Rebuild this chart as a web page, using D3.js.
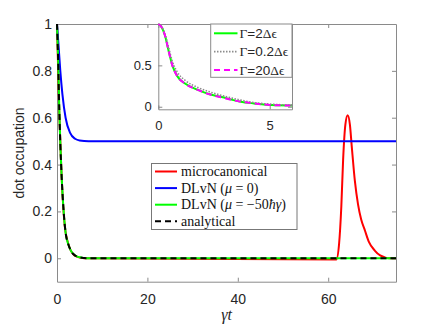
<!DOCTYPE html>
<html>
<head>
<meta charset="utf-8">
<script src="https://cdn.jsdelivr.net/npm/d3@7/dist/d3.min.js"></script>
<style>
	body { margin: 0; background: #fff; }
	svg { display: block; }
</style>
</head>
<body>
<div id="container"></div>
<script>
// data, [gamma*t, occupation]
const microcanonical = [[0, 1], [0.5, 0.62], [1, 0.36], [2, 0.1], [4, 0.01], [6, 0], [61.8, -0.005],
	[62.4, 0.06], [62.9, 0.22], [63.3, 0.42], [63.8, 0.57], [64.3, 0.61], [64.8, 0.57], [65.2, 0.48],
	[65.9, 0.33], [66.6, 0.23], [67.3, 0.165], [68.1, 0.12], [69, 0.07], [70.3, 0.033], [71.5, 0.012],
	[72.5, 0.004], [73.5, 0], [75, 0]]
const dlvnMu0 = [[0, 1], [0.3, 0.92], [0.73, 0.8], [1.2, 0.7], [1.9, 0.6], [2.9, 0.535], [4, 0.51],
	[5, 0.503], [7, 0.5], [75, 0.5]]
const dlvnMu50 = [[0, 1], [0.25, 0.85], [0.5, 0.64], [0.75, 0.48], [1, 0.36], [1.4, 0.22], [1.9, 0.11],
	[2.5, 0.06], [3, 0.035], [4, 0.012], [5, 0.004], [6, 0.001], [7, 0], [75, 0]]
const analytical = [[0, 1], [0.25, 0.85], [0.5, 0.64], [0.75, 0.48], [1, 0.36], [1.4, 0.22], [1.9, 0.11],
	[2.5, 0.06], [3, 0.035], [4, 0.012], [5, 0.004], [6, 0.001], [7, 0], [75, 0]]

// inset
const gamma2 = [[0, 1], [0.15, 0.96], [0.3, 0.86], [0.45, 0.69], [0.63, 0.5], [0.85, 0.37], [1.2, 0.28],
	[1.8, 0.2], [2.3, 0.15], [2.8, 0.12], [3.7, 0.06], [4.3, 0.04], [5.1, 0.02], [6, 0.015]]
const gamma02 = [[0, 1], [0.15, 0.97], [0.3, 0.88], [0.45, 0.73], [0.63, 0.55], [0.85, 0.42], [1.2, 0.32],
	[1.8, 0.23], [2.3, 0.18], [2.8, 0.14], [3.7, 0.08], [4.3, 0.05], [5.1, 0.03], [6, 0.02]]
const gamma20 = [[0, 1], [0.15, 0.96], [0.3, 0.86], [0.45, 0.69], [0.63, 0.5], [0.85, 0.37], [1.2, 0.28],
	[1.8, 0.2], [2.3, 0.15], [2.8, 0.115], [3.7, 0.06], [4.3, 0.04], [5.1, 0.02], [6, 0.015]]

const mainXTicks = [0, 20, 40, 60]
const mainYTicks = [0, 0.2, 0.4, 0.6, 0.8, 1]
const insetXTicks = [0, 5]
const insetYTicks = [0, 0.5, 1]

const width = 438, height = 328
const axisColor = "#8a8a8a", textColor = "#262626"
const sans = "'Liberation Sans', Arial, sans-serif"
const serif = "'Liberation Serif', 'Times New Roman', serif"
const fmt = d3.format("~g")

const svg = d3.select("#container").append("svg")
	.attr("width", width)
	.attr("height", height)

svg.append("rect").attr("width", width).attr("height", height).attr("fill", "#fff")

// main axes
const x = d3.scaleLinear().domain([0, 75]).range([57, 396])
const y = d3.scaleLinear().domain([-0.1, 1]).range([281.7, 24])

function drawAxes(g, x, y, xTicks, yTicks, fontSize, padX, padY, yFormat) {
	const [x0, x1] = x.range()
	const [y0, y1] = y.range()
	const blank = () => ""
	const parts = [
		[d3.axisBottom(x).tickValues(xTicks).tickPadding(padX).tickFormat(fmt), `translate(0,${y0})`],
		[d3.axisTop(x).tickValues(xTicks).tickFormat(blank), `translate(0,${y1})`],
		[d3.axisLeft(y).tickValues(yTicks).tickPadding(padY).tickFormat(yFormat), `translate(${x0},0)`],
		[d3.axisRight(y).tickValues(yTicks).tickFormat(blank), `translate(${x1},0)`],
	]
	parts.forEach(([axis, tr]) => {
		const a = g.append("g")
			.attr("transform", tr)
			.call(axis.tickSizeInner(-4).tickSizeOuter(0))
			.attr("font-family", sans)
			.attr("font-size", fontSize)
		a.select(".domain").attr("stroke", axisColor)
		a.selectAll(".tick line").attr("stroke", axisColor)
		a.selectAll(".tick text").attr("fill", textColor)
	})
}

function lineFor(x, y) {
	return d3.line().x(d => x(d[0])).y(d => y(d[1])).curve(d3.curveMonotoneX)
}

const mainG = svg.append("g")
drawAxes(mainG, x, y, mainXTicks, mainYTicks, 14, 12, 5, fmt)

const mainLine = lineFor(x, y)
const mainSeries = [
	{ data: microcanonical, color: "#ff0000", dash: null, label: [["microcanonical", false]] },
	{ data: dlvnMu0, color: "#0000ff", dash: null, label: [["DLvN (", false], ["μ", true], [" = 0)", false]] },
	{ data: dlvnMu50, color: "#00ff00", dash: null, label: [["DLvN (", false], ["μ", true], [" = −50", false], ["ħγ", true], [")", false]] },
	{ data: analytical, color: "#000000", dash: "6,4", label: [["analytical", false]] },
]

mainG.selectAll("path.series")
	.data(mainSeries)
	.join("path")
	.attr("class", "series")
	.attr("d", d => mainLine(d.data))
	.attr("fill", "none")
	.attr("stroke", d => d.color)
	.attr("stroke-width", 2)
	.attr("stroke-dasharray", d => d.dash)

// axis labels
svg.append("text")
	.attr("transform", "translate(24,153) rotate(-90)")
	.attr("text-anchor", "middle")
	.attr("font-family", sans)
	.attr("font-size", 14)
	.attr("fill", textColor)
	.text("dot occupation")

svg.append("text")
	.attr("x", 226.5)
	.attr("y", 320)
	.attr("text-anchor", "middle")
	.attr("font-family", serif)
	.attr("font-style", "italic")
	.attr("font-size", 16)
	.attr("fill", textColor)
	.text("γt")

// main legend
const legend = svg.append("g")
legend.append("rect")
	.attr("x", 151.5).attr("y", 163.5)
	.attr("width", 145.5).attr("height", 66)
	.attr("fill", "#fff").attr("stroke", "#777")

const legendRow = legend.selectAll("g.row")
	.data(mainSeries)
	.join("g")
	.attr("class", "row")
	.attr("transform", (d, i) => `translate(0,${171.5 + i * 16.6})`)

legendRow.append("line")
	.attr("x1", 155).attr("x2", 177)
	.attr("stroke", d => d.color)
	.attr("stroke-width", 2)
	.attr("stroke-dasharray", d => d.dash)

legendRow.append("text")
	.attr("x", 181)
	.attr("dy", "0.33em")
	.attr("font-family", serif)
	.attr("font-size", 14)
	.attr("fill", "#111")
	.selectAll("tspan")
	.data(d => d.label)
	.join("tspan")
	.attr("font-style", d => d[1] ? "italic" : null)
	.text(d => d[0])

// inset
const xi = d3.scaleLinear().domain([0, 6]).range([158.3, 292])
const yi = d3.scaleLinear().domain([-0.031, 1]).range([109.3, 24])

const insetG = svg.append("g")
insetG.append("rect")
	.attr("x", 158.3).attr("y", 24)
	.attr("width", 292 - 158.3).attr("height", 109.3 - 24)
	.attr("fill", "#fff")
drawAxes(insetG, xi, yi, insetXTicks, insetYTicks, 13, 11.5, 6.5, d => d === 1 ? "" : fmt(d))

const insetLine = lineFor(xi, yi)
const insetSeries = [
	{ data: gamma2, color: "#00ff00", dash: null, width: 2, label: [["Γ", "s"], ["=2", "a"], ["Δϵ", "s"]] },
	{ data: gamma02, color: "#8c8c8c", dash: "1.5,1.5", width: 1.6, label: [["Γ", "s"], ["=0.2", "a"], ["Δϵ", "s"]] },
	{ data: gamma20, color: "#ff00ff", dash: "6,4", width: 2, label: [["Γ", "s"], ["=20", "a"], ["Δϵ", "s"]] },
]

insetG.selectAll("path.series")
	.data(insetSeries)
	.join("path")
	.attr("class", "series")
	.attr("d", d => insetLine(d.data))
	.attr("fill", "none")
	.attr("stroke", d => d.color)
	.attr("stroke-width", d => d.width)
	.attr("stroke-dasharray", d => d.dash)

// inset legend
const insetLegend = svg.append("g")
insetLegend.append("rect")
	.attr("x", 210.7).attr("y", 24)
	.attr("width", 292 - 210.7).attr("height", 77.3 - 24)
	.attr("fill", "#fff").attr("stroke", axisColor)

const insetRow = insetLegend.selectAll("g.row")
	.data(insetSeries)
	.join("g")
	.attr("class", "row")
	.attr("transform", (d, i) => `translate(0,${33.3 + i * 18.3})`)

insetRow.append("line")
	.attr("x1", 214).attr("x2", 237.5)
	.attr("stroke", d => d.color)
	.attr("stroke-width", d => d.width)
	.attr("stroke-dasharray", d => d.dash)

insetRow.append("text")
	.attr("x", 239.5)
	.attr("dy", "0.35em")
	.attr("font-size", 13.5)
	.attr("fill", textColor)
	.selectAll("tspan")
	.data(d => d.label)
	.join("tspan")
	.attr("font-family", d => d[1] === "s" ? serif : sans)
	.text(d => d[0])
</script>
</body>
</html>
